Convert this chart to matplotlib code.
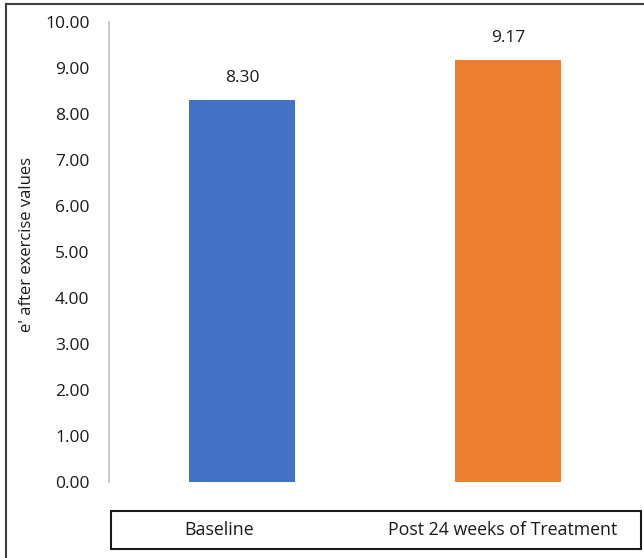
import matplotlib.pyplot as plt
from matplotlib.patches import Rectangle
from matplotlib.lines import Line2D

# Data
categories = ["Baseline", "Post 24 weeks of Treatment"]
values = [8.30, 9.17]
colors = ["#4472C4", "#ED7D31"]
yticks = [0, 1, 2, 3, 4, 5, 6, 7, 8, 9, 10]

plt.rcParams['font.family'] = ['Open Sans', 'DejaVu Sans']
FS = 12.5

W, H = 644, 558
fig = plt.figure(figsize=(W / 100, H / 100), dpi=100)

# axes placed in pixel terms
x0, x1 = 109, 641
y0, y1 = 482, 22
ax = fig.add_axes([x0 / W, 1 - y0 / H, (x1 - x0) / W, (y0 - y1) / H])

xpos = range(len(categories))
ax.bar(xpos, values, width=0.4, color=colors)
for x, v in zip(xpos, values):
    ax.text(x, v + 0.3, f"{v:.2f}", ha="center", va="bottom", fontsize=FS, color="#1a1a1a")

ax.set_xlim(-0.5, 1.5)
ax.set_ylim(0, 10)
ax.set_yticks(yticks)
ax.set_yticklabels([f"{t:.2f}" for t in yticks], fontsize=FS, color="#1a1a1a")
ax.tick_params(axis="y", length=0, pad=14)
ax.set_xticks([])
for s in ["top", "right", "bottom"]:
    ax.spines[s].set_visible(False)
ax.spines["left"].set_color("#bfbfbf")
ax.spines["left"].set_linewidth(1.2)

fig.text(27 / W, 1 - 245 / H, "e' after exercise values", rotation=90,
         ha="center", va="center", fontsize=12, color="#1a1a1a")

# category box under the bars
fig.add_artist(Rectangle((111 / W, 1 - 549 / H), (641 - 111) / W, (549 - 511) / H,
                         transform=fig.transFigure, fill=False, edgecolor="#1a1a1a", linewidth=1.5))
label_offsets = [-0.086, -0.02]
for x, lab, off in zip(xpos, categories, label_offsets):
    ax.text(x + off, -1.04, lab, ha="center", va="center", fontsize=12.8,
            color="#1a1a1a", clip_on=False)

# outer frame (left and top edges)
fig.add_artist(Line2D([6 / W, 6 / W], [0, 1 - 4 / H], transform=fig.transFigure,
                      color="#404040", linewidth=1.5))
fig.add_artist(Line2D([6 / W, 1], [1 - 4 / H, 1 - 4 / H], transform=fig.transFigure,
                      color="#404040", linewidth=1.5))

fig.savefig("out.png", dpi=100)
